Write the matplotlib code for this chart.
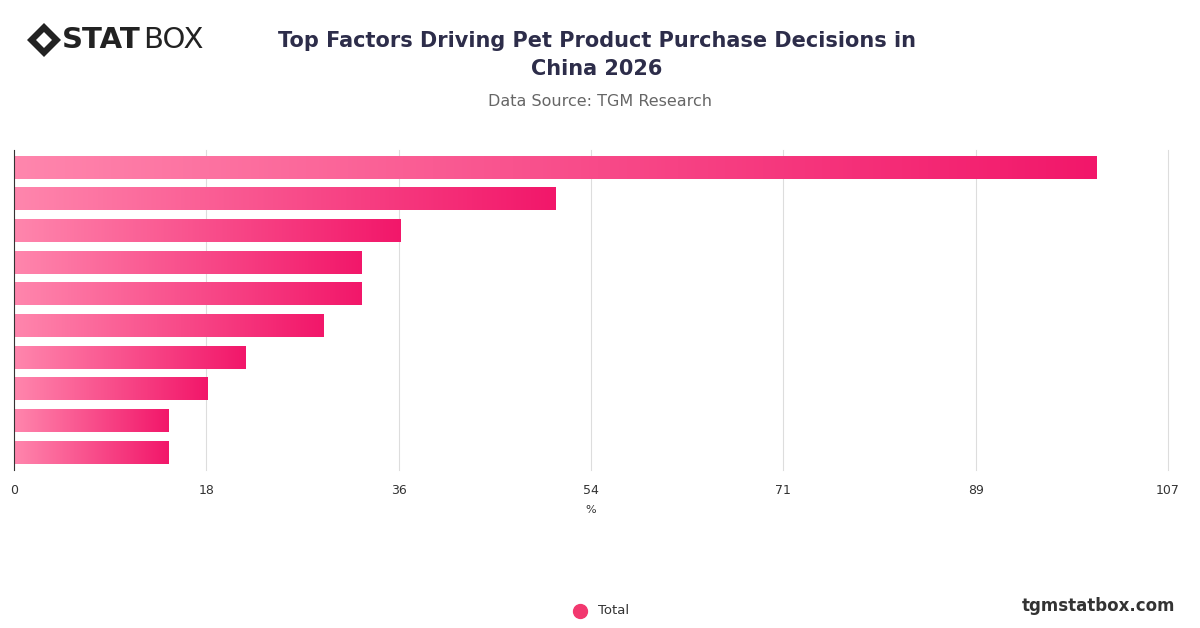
import matplotlib
matplotlib.use("Agg")
import matplotlib.pyplot as plt
import numpy as np
from matplotlib.colors import LinearSegmentedColormap
from matplotlib.patches import Polygon
from matplotlib.lines import Line2D

values = [100.4, 50.2, 35.8, 32.2, 32.2, 28.7, 21.5, 17.9, 14.3, 14.3]
tick_vals = [0, 107/6, 2*107/6, 3*107/6, 4*107/6, 5*107/6, 107]
tick_labels = ["0", "18", "36", "54", "71", "89", "107"]

fig = plt.figure(figsize=(12, 6.28), dpi=100)
ax = fig.add_axes([14/1200, 1-470/628, (1168-14)/1200, (470-150)/628])
cmap = LinearSegmentedColormap.from_list("pk", ["#ff86ad", "#f2176a"])
grad = np.linspace(0, 1, 256).reshape(1, -1)
n = len(values)
h = 0.7
for i, v in enumerate(values):
    ax.imshow(grad, cmap=cmap, aspect="auto", extent=[0, v, i + h/2, i - h/2], zorder=2)
ax.set_xlim(0, 107)
ax.set_ylim(n - 0.5 + 0.05, -0.5 - 0.05)
ax.set_xticks(tick_vals)
ax.set_xticklabels(tick_labels, fontsize=9, color="#333333")
ax.set_yticks([])
ax.grid(False)
for t in tick_vals[1:]:
    ax.axvline(t, color="#dddddd", lw=0.8, zorder=0, clip_on=False)
for s in ["top", "right", "bottom"]:
    ax.spines[s].set_visible(False)
ax.spines["left"].set_color("#333333")
ax.tick_params(axis="x", length=0, pad=10)
ax.set_xlabel("%", fontsize=8, color="#333333", labelpad=6)

fig.text(597/1200, 1-55/628, "Top Factors Driving Pet Product Purchase Decisions in\nChina 2026",
         ha="center", va="center", fontsize=15, fontweight="bold", color="#2d2d4a", linespacing=1.5)
fig.text(600/1200, 1-101/628, "Data Source: TGM Research", ha="center", va="center", fontsize=11.5, color="#666666")

# logo
fig.text(62/1200, 1-40/628, "STAT", ha="left", va="center", fontsize=21, fontweight="bold", color="#222222")
fig.text(143/1200, 1-40/628, "BOX", ha="left", va="center", fontsize=21, color="#222222")
cx, cy = 44, 40
def diamond(r, c):
    fig.patches.append(Polygon([((cx-r)/1200, 1-cy/628), (cx/1200, 1-(cy-r)/628), ((cx+r)/1200, 1-cy/628), (cx/1200, 1-(cy+r)/628)],
                               closed=True, transform=fig.transFigure, facecolor=c))
diamond(17, "#222222")
diamond(8, "white")

fig.text(1175/1200, 1-606/628, "tgmstatbox.com", ha="right", va="center", fontsize=12, fontweight="bold", color="#333333")
fig.add_artist(Line2D([580/1200], [1-611/628], marker="o", markersize=10, color="#f2386f", transform=fig.transFigure))
fig.text(598/1200, 1-611/628, "Total", ha="left", va="center", fontsize=9.5, color="#333333")

fig.savefig("out.png", dpi=100, facecolor="white")
